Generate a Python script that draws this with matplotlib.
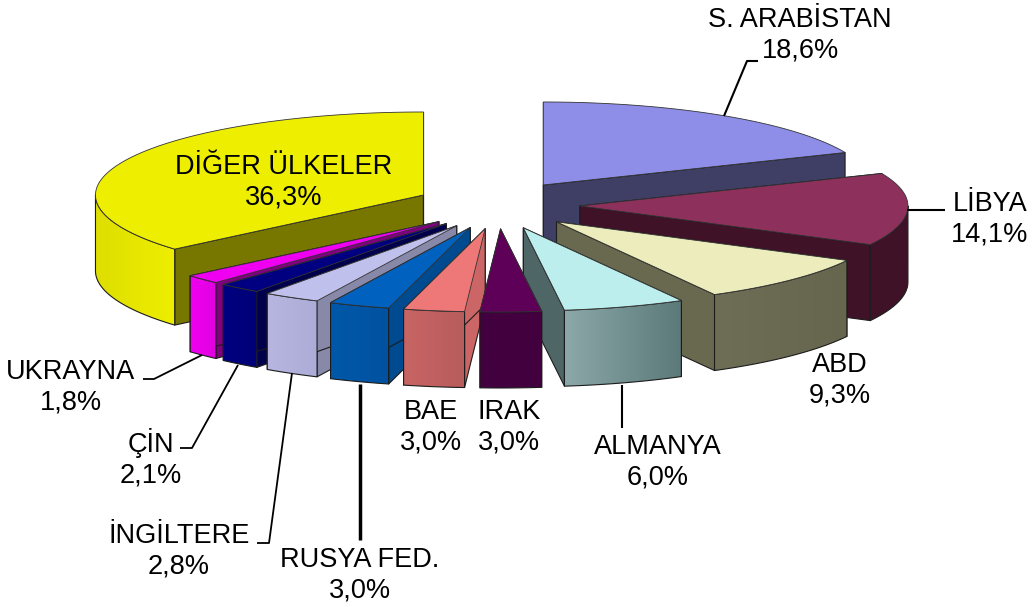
import numpy as np
import matplotlib
matplotlib.use("Agg")
import matplotlib.pyplot as plt
from matplotlib.patches import Polygon

plt.rcParams['font.family'] = ['Liberation Sans', 'DejaVu Sans']

# data, clockwise from 12 o'clock
names = ['S. ARABİSTAN', 'LİBYA', 'ABD', 'ALMANYA', 'IRAK', 'BAE', 'RUSYA FED.',
         'İNGİLTERE', 'ÇİN', 'UKRAYNA', 'DİĞER ÜLKELER']
values = [18.6, 14.1, 9.3, 6.0, 3.0, 3.0, 3.0, 2.8, 2.1, 1.8, 36.3]

# colours
top_col = ['#8E8EE8', '#8E305C', '#ECECBC', '#BDEEEE', '#5E0058', '#EE7878',
           '#0062BE', '#C0C0EC', '#000080', '#F000F0', '#EEEE00']
side_col = ['#3F3F66', '#3F1228', '#696950', '#4F6666', '#42003F', '#CC6666',
            '#004A90', '#8888A8', '#00004C', '#800080', '#777700']
wall_l = ['#3F3F66', '#3F1228', '#6E6E56', '#8CA8A8', '#42003F', '#C86464',
          '#0058A8', '#B6B6E0', '#000080', '#F000F0', '#DEDE00']
wall_r = ['#3F3F66', '#3F1228', '#66664E', '#5C7A7A', '#42003F', '#B85C5C',
          '#0052A0', '#ACACD8', '#000078', '#E000E0', '#EEEE00']

# label centres
label_xy = [(800, 35), (990, 219), (840, 380), (658, 462), (509, 427), (431, 427),
            (360, 575), (179, 551), (151, 458), (71, 387), (284, 182)]

# leader lines
leaders = [([724, 747, 758], [116, 61, 61], 1.5),
           ([907, 945], [210, 210], 1.5),
           ([622, 622], [385, 428], 1.5),
           ([360, 360], [384, 540], 2.5),
           ([292, 269, 257], [373, 543, 543], 1.3),
           ([238, 192, 180], [365, 448, 448], 1.3),
           ([202, 154, 143], [355, 379, 379], 1.3)]

cx, cy = 498, 205
rx, ry = 328, 83
exp_x, exp_y = 82, 24
depth = 76

fig = plt.figure(figsize=(10.34, 6.07), dpi=100)
ax = fig.add_axes([0, 0, 1, 1])

edges = np.cumsum([0] + values) / sum(values) * 360


def rim(x0, y0, a):
    a = np.radians(a)
    return x0 + rx * np.sin(a), y0 - ry * np.cos(a)


def gradient_fill(pts, c1, c2, z):
    poly = Polygon(pts, closed=True, fc='none', ec='none', zorder=z)
    ax.add_patch(poly)
    rgb = np.array([matplotlib.colors.to_rgb(c1), matplotlib.colors.to_rgb(c2)])
    img = np.linspace(rgb[0], rgb[1], 64)[None, :, :]
    xs, ys = pts[:, 0], pts[:, 1]
    im = ax.imshow(img, extent=[xs.min(), xs.max(), ys.max(), ys.min()],
                   aspect='auto', zorder=z, interpolation='bilinear')
    im.set_clip_path(poly)


mids = (edges[:-1] + edges[1:]) / 2
order = np.argsort(-np.cos(np.radians(mids)))
edge_kw = dict(ec='#1c1c1c', lw=0.8, joinstyle='round')

for n, i in enumerate(order):
    a0, a1 = edges[i], edges[i + 1]
    m = np.radians(mids[i])
    x0 = cx + exp_x * np.sin(m)
    y0 = cy - exp_y * np.cos(m)
    z = 2 + n

    # radial walls
    for a in (a0, a1):
        px, py = rim(x0, y0, a)
        wall = [(x0, y0), (px, py), (px, py + depth), (x0, y0 + depth)]
        ax.add_patch(Polygon(wall, closed=True, fc=side_col[i], zorder=z, **edge_kw))

    # outer wall, front half only
    lo, hi = max(a0, 90), min(a1, 270)
    if lo < hi:
        t = np.linspace(lo, hi, 60)
        px, py = rim(x0, y0, t)
        pts = np.column_stack([np.r_[px, px[::-1]], np.r_[py, py[::-1] + depth]])
        gradient_fill(pts, wall_l[i], wall_r[i], z)
        ax.add_patch(Polygon(pts, closed=True, fc='none', zorder=z, **edge_kw))

    # top face
    t = np.linspace(a0, a1, 80)
    px, py = rim(x0, y0, t)
    top = np.column_stack([np.r_[x0, px], np.r_[y0, py]])
    ax.add_patch(Polygon(top, closed=True, fc=top_col[i], zorder=z, ec='#333333', lw=0.6))

for xs, ys, w in leaders:
    ax.plot(xs, ys, color='black', lw=w, zorder=30, solid_capstyle='butt')

for name, v, (x, y) in zip(names, values, label_xy):
    txt = name + '\n' + f'{v:.1f}%'.replace('.', ',')
    ax.text(x, y, txt, ha='center', va='center', fontsize=19.5, color='black',
            linespacing=1.22, zorder=40)

ax.set_xlim(0, 1034)
ax.set_ylim(607, 0)
ax.axis('off')
fig.savefig('out.png', dpi=100, facecolor='white')
